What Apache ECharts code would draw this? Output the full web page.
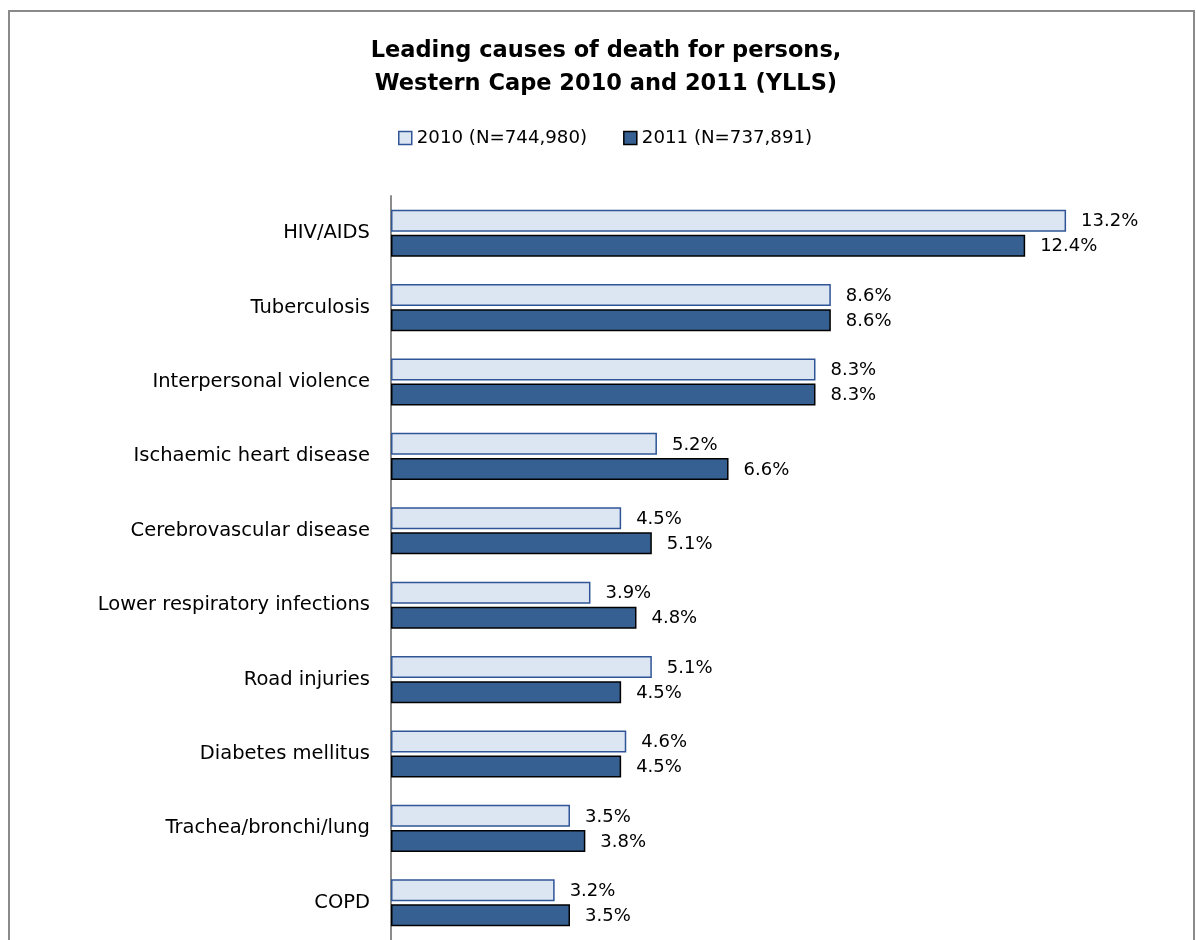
<!DOCTYPE html>
<html><head><meta charset="utf-8">
<script src="https://cdn.jsdelivr.net/npm/echarts@6/dist/echarts.min.js"></script>
<style>html,body{margin:0;padding:0;background:#fff}#c{width:1196px;height:940px}</style>
</head><body><div id="c"></div>
<script>
const categories = ["HIV/AIDS","Tuberculosis","Interpersonal violence","Ischaemic heart disease","Cerebrovascular disease","Lower respiratory infections","Road injuries","Diabetes mellitus","Trachea/bronchi/lung","COPD"];
const values2010 = [13.2,8.6,8.3,5.2,4.5,3.9,5.1,4.6,3.5,3.2];
const values2011 = [12.4,8.6,8.3,6.6,5.1,4.8,4.5,4.5,3.8,3.5];
const seriesNames = ["2010 (N=744,980)","2011 (N=737,891)"];

const FONT = "DejaVu Sans";
const chart = echarts.init(document.getElementById('c'));
chart.setOption({
  animation:false,
  textStyle:{fontFamily:FONT},
  graphic:[{type:'rect',shape:{x:9,y:11,width:1185,height:1000},style:{fill:'none',stroke:'#8a8a8a',lineWidth:2},z:-1}],
  title:{text:"Leading causes of death for persons,\nWestern Cape 2010 and 2011 (YLLS)",left:601,top:30,textAlign:'center',
    textStyle:{fontFamily:FONT,fontWeight:'bold',fontSize:22.5,lineHeight:33,color:'#000'}},
  legend:{top:124,left:393,itemWidth:13,itemHeight:13,itemGap:36,
    textStyle:{fontFamily:FONT,fontSize:18.2,color:'#000'},
    data:[{name:seriesNames[0],icon:'rect',itemStyle:{color:'#dce6f2',borderColor:'#2f5597',borderWidth:1.5}},
          {name:seriesNames[1],icon:'rect',itemStyle:{color:'#376092',borderColor:'#000',borderWidth:1.5}}]},
  grid:{left:391,top:196,width:716,bottom:-6,containLabel:false},
  xAxis:{type:'value',min:0,max:14,show:false,splitLine:{show:false}},
  yAxis:{type:'category',data:categories,inverse:true,
    axisLine:{lineStyle:{color:'#8c8c8c',width:2}},axisTick:{show:false},
    axisLabel:{fontFamily:FONT,fontSize:19.5,color:'#000',margin:21,padding:[2,0,0,0]}},
  series:[
    {name:seriesNames[0],type:'bar',data:values2010,barWidth:22,barGap:'14%',
     itemStyle:{color:'#dce6f2',borderColor:'#2f5597',borderWidth:1.5},
     label:{show:true,position:'right',distance:15,fontFamily:FONT,fontSize:18,color:'#000',offset:[0,1],formatter:p=>p.value.toFixed(1)+'%'}},
    {name:seriesNames[1],type:'bar',data:values2011,barWidth:22,
     itemStyle:{color:'#376092',borderColor:'#000',borderWidth:1.5},
     label:{show:true,position:'right',distance:15,fontFamily:FONT,fontSize:18,color:'#000',offset:[0,1],formatter:p=>p.value.toFixed(1)+'%'}}
  ]
});
</script></body></html>
